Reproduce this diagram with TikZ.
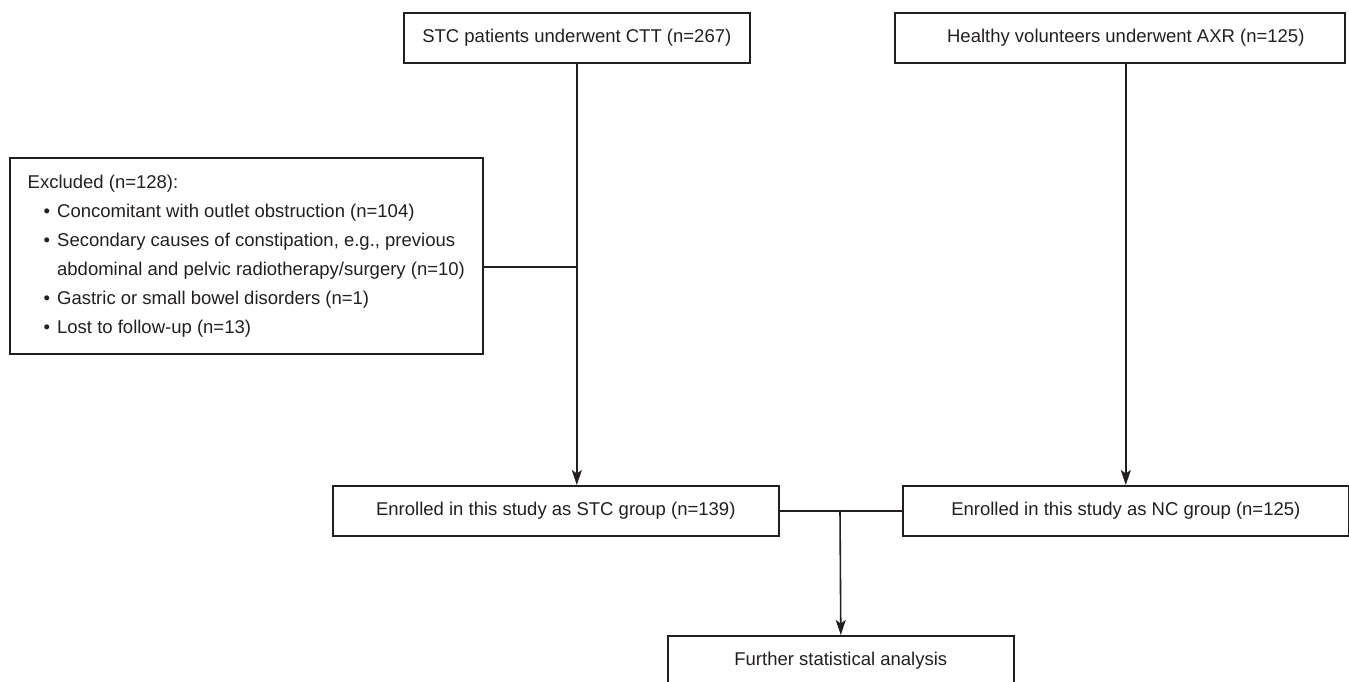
\documentclass[tikz,border=0pt]{standalone}
\usepackage{fontspec}
\setmainfont{Liberation Sans}
\usetikzlibrary{arrows.meta}
\definecolor{ink}{HTML}{231F20}
\newcommand\bul{\hspace*{16pt}\makebox[13.5pt][l]{\textbullet}}
\begin{document}
\begin{tikzpicture}[x=1pt,y=-1pt,
  box/.style={draw=ink, line width=1.6pt, text=ink, inner sep=0pt,
    font=\fontsize{18.5}{22}\selectfont, anchor=north west},
  conn/.style={draw=ink, line width=1.6pt},
  arr/.style={conn, -{Stealth[length=15pt,width=10pt,inset=3.5pt]}}]
\useasboundingbox (0,0) rectangle (1349,682);
\clip (0,0) rectangle (1349,682);
\node[box, minimum width=346pt, minimum height=50pt] (top1) at (403,12) {STC patients underwent CTT (n=267)};
\node[box, minimum width=450pt, minimum height=50pt] (top2) at (894,12) {\hspace*{12pt}Healthy volunteers underwent AXR (n=125)};
\node[box, minimum width=473pt, minimum height=196pt, align=left,
  font=\fontsize{18.5}{29}\selectfont] (excl) at (9,157) {Excluded (n=128):\\
\bul Concomitant with outlet obstruction (n=104)\\
\bul Secondary causes of constipation, e.g., previous\\
\hspace*{29.5pt}abdominal and pelvic radiotherapy/surgery (n=10)\\
\bul Gastric or small bowel disorders (n=1)\\
\bul Lost to follow-up (n=13)};
\node[box, minimum width=446pt, minimum height=50pt] (stc) at (332,485) {Enrolled in this study as STC group (n=139)};
\node[box, minimum width=446pt, minimum height=50pt] (nc) at (902,485) {Enrolled in this study as NC group (n=125)};
\node[box, minimum width=346pt, minimum height=50pt] (fur) at (667,635) {Further statistical analysis};
\coordinate (j1) at (576,267);
\coordinate (j2) at (840,510);
\draw[arr] (top1.south) -- (top1.south |- stc.north);
\draw[conn] (excl.east |- j1) -- (j1);
\draw[arr] (nc.north |- top2.south) -- (nc.north);
\draw[conn] (stc.east) -- (nc.west);
\draw[arr] (j2) -- (fur.north);
\end{tikzpicture}
\end{document}
